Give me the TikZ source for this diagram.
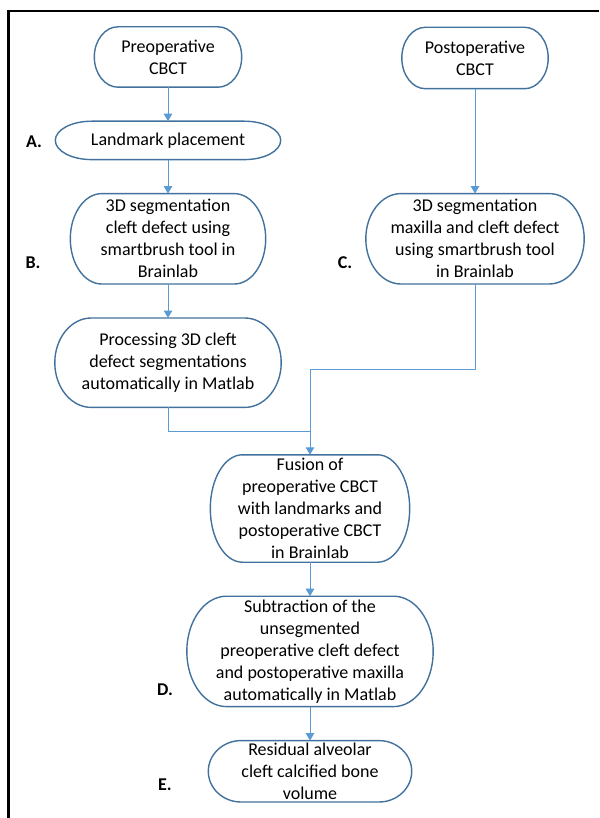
\documentclass[tikz,border=0pt]{standalone}
\usepackage{fontspec}
\setmainfont{Carlito}
\usepackage{xcolor}
\usetikzlibrary{arrows.meta,positioning,calc}

\definecolor{boxline}{HTML}{41719C}
\definecolor{flowblue}{HTML}{5B9BD5}

% outline of a Word-style terminator around a named node
\newcommand\termoutline[1]{%
    \draw[boxline,line width=1.4pt]
        let \p1=(#1.north west), \p2=(#1.south east),
            \n1={0.161*(\x2-\x1)}, \n2={0.5*(\y1-\y2)} in
        (\x1+\n1,\y1) -- (\x2-\n1,\y1)
        arc[start angle=90,end angle=-90,x radius=\n1,y radius=\n2]
        -- (\x1+\n1,\y2)
        arc[start angle=270,end angle=90,x radius=\n1,y radius=\n2]
        -- cycle;}

\begin{document}
\begin{tikzpicture}[
    x=1pt,y=-1pt,
    node distance=34pt,
    term/.style={align=center,inner sep=0pt,font=\fontsize{18}{22}\selectfont},
    tag/.style={font=\fontsize{18}{22}\selectfont\bfseries},
    arrow/.style={-{Triangle[length=7.5pt,width=8.5pt]},line width=1pt,draw=flowblue},
    link/.style={line width=1pt,draw=flowblue}
]
\useasboundingbox (0,0) rectangle (599,818);
\draw[line width=2.2pt] (8.5,818) -- (8.5,11) -- (599,11);

% left branch
\node[term,minimum width=147pt,minimum height=60pt] (pre) at (168,57)
    {Preoperative\\CBCT};
\node[term,minimum width=225pt,minimum height=38pt,below=of pre] (land)
    {Landmark placement};
\node[term,minimum width=195pt,minimum height=90pt,below=of land] (segB)
    {3D segmentation\\cleft defect using\\smartbrush tool in\\Brainlab};
\node[term,minimum width=226pt,minimum height=89pt,below=of segB] (proc)
    {Processing 3D cleft\\defect segmentations\\automatically in Matlab};

% right branch
\node[term,minimum width=146pt,minimum height=61pt] (post) at (475,58)
    {Postoperative\\CBCT};
\node[term,minimum width=218pt,minimum height=90pt] (segC) at (post |- segB)
    {3D segmentation\\maxilla and cleft defect\\using smartbrush tool\\in Brainlab};

% merged steps
\node[term,minimum width=199pt,minimum height=107pt] (fus) at (310,508.5)
    {Fusion of\\preoperative CBCT\\with landmarks and\\postoperative CBCT\\in Brainlab};
\node[term,minimum width=246pt,minimum height=110pt,below=of fus] (subD)
    {Subtraction of the\\unsegmented\\preoperative cleft defect\\and postoperative maxilla\\automatically in Matlab};
\node[term,minimum width=203pt,minimum height=61pt,below=of subD] (resE)
    {Residual alveolar\\cleft calcified bone\\volume};

\foreach \nm in {pre,land,segB,proc,post,segC,fus,subD,resE}
    \termoutline{\nm};

% step letters
\node[tag] (tagA) at (34,142) {A.};
\node[tag] (tagB) at (33,263) {B.};
\node[tag] (tagC) at (345,263) {C.};
\node[tag] (tagD) at (165,690) {D.};
\node[tag] (tagE) at (165,785) {E.};

\coordinate (bend) at (310,369);
\coordinate (jn) at (310,431);
\draw[arrow] (pre) -- (land);
\draw[arrow] (land) -- (segB);
\draw[arrow] (segB) -- (proc);
\draw[arrow] (post) -- (segC);
\draw[arrow] (segC.south) -- (segC.south |- bend) -- (bend) -- (fus.north);
\draw[link] (proc.south) |- (jn);
\draw[arrow] (fus) -- (subD);
\draw[arrow] (subD) -- (resE);
\end{tikzpicture}
\end{document}
